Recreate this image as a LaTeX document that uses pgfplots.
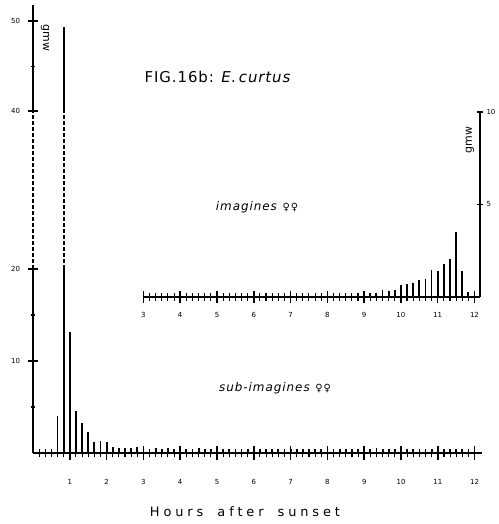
\documentclass[border=0pt]{standalone}
\usepackage{pgfplots}
\pgfplotsset{compat=1.18}
\usepackage{pgfplotstable}
\usepackage{fontspec}
\setmainfont{DejaVu Sans}

% sub-imagines (female), gmw per 10-min interval, hours after sunset
\pgfplotstableread{
h v
0.6667 4.0
0.8333 49.3
1.0000 13.1
1.1667 4.6
1.3333 3.3
1.5000 2.3
1.6667 1.2
1.8333 1.3
2.0000 1.2
2.1667 0.7
2.3333 0.5
2.5000 0.5
2.6667 0.5
2.8333 0.6
3.0000 0.5
3.1667 0.45
3.3333 0.5
3.5000 0.45
3.6667 0.5
3.8333 0.45
4.0000 0.5
4.1667 0.45
4.3333 0.45
4.5000 0.5
4.6667 0.45
4.8333 0.45
5.0000 0.5
5.1667 0.45
5.3333 0.4
5.5000 0.45
5.6667 0.45
5.8333 0.4
6.0000 0.45
6.1667 0.45
6.3333 0.4
6.5000 0.45
6.6667 0.45
6.8333 0.4
7.0000 0.45
7.1667 0.4
7.3333 0.45
7.5000 0.4
7.6667 0.45
7.8333 0.4
8.0000 0.45
8.1667 0.4
8.3333 0.45
8.5000 0.45
8.6667 0.4
8.8333 0.45
9.0000 0.4
9.1667 0.45
9.3333 0.5
9.5000 0.45
9.6667 0.4
9.8333 0.45
10.0000 0.4
10.1667 0.4
10.3333 0.45
10.5000 0.4
10.6667 0.4
10.8333 0.45
11.0000 0.4
11.1667 0.4
11.3333 0.4
11.5000 0.45
11.6667 0.4
11.8333 0.35
}\subimag

% imagines (female)
\pgfplotstableread{
h v
7.3333 0.08
7.5000 0.08
7.6667 0.08
7.8333 0.08
8.0000 0.08
8.1667 0.08
8.3333 0.08
8.5000 0.08
8.6667 0.08
8.8333 0.09
9.0000 0.18
9.1667 0.23
9.3333 0.22
9.5000 0.36
9.6667 0.32
9.8333 0.40
10.0000 0.67
10.1667 0.72
10.3333 0.76
10.5000 0.94
10.6667 0.97
10.8333 1.44
11.0000 1.40
11.1667 1.80
11.3333 2.07
11.5000 3.50
11.6667 1.40
11.8333 0.27
}\imag

\begin{document}
\begin{tikzpicture}
\useasboundingbox (0bp,0bp) rectangle (499bp,524bp);
\pgfplotsset{
  every axis/.append style={
    scale only axis, anchor=south west,
    /pgf/number format/assume math mode=true,
    tick label style={font=\fontsize{7}{8}\selectfont, black},
    tick align=outside,
    major tick style={line width=1.5bp, black},
    minor tick style={line width=1.1bp, black},
  },
  noarrow/.style={axis line style={-, line width=1.7bp, black},
    x axis line style={-}, y axis line style={-}},
  bars/.style={ycomb, black, line width=1.8bp},
}
% ---- main chart: lower part with x axis and bars
\begin{axis}[at={(33bp,71bp)}, width=449bp, height=184bp,
  xmin=0, xmax=12.2, ymin=0, ymax=20,
  axis x line=bottom, axis y line=none,
  xtick={1,...,12}, minor xtick={0.16667,0.33333,...,11.9},
  major tick length=15bp, minor tick length=9bp,
  xticklabel shift=15bp, noarrow]
\addplot[bars] table[x=h,y=v]{\subimag};
\end{axis}
% lower y axis
\begin{axis}[at={(33bp,71bp)}, width=449bp, height=184bp,
  xmin=0, xmax=12.2, ymin=0, ymax=20,
  axis x line=none, axis y line=left,
  ytick={10,20}, minor ytick={5,15},
  major tick length=11bp, minor tick length=5bp,
  yticklabel shift=4bp, noarrow]
\end{axis}
% broken part 20..40
\begin{axis}[at={(33bp,255bp)}, width=449bp, height=158bp,
  xmin=0, xmax=12.2, ymin=20, ymax=40,
  axis x line=none, axis y line=left, ytick=\empty, noarrow,
  y axis line style={dash pattern=on 4bp off 2bp}]
\addplot[bars, dash pattern=on 4bp off 2bp] table[x=h,y=v]{\subimag};
\end{axis}
% upper part 40..52
\begin{axis}[at={(33bp,413bp)}, width=449bp, height=106bp,
  xmin=0, xmax=12.2, ymin=40, ymax=51.8,
  axis x line=none, axis y line=left,
  ytick={40,50}, minor ytick={45},
  major tick length=11bp, minor tick length=5bp,
  yticklabel shift=4bp, noarrow]
\addplot[bars] table[x=h,y=v]{\subimag};
\end{axis}
% ---- inset: imagines
\begin{axis}[at={(143.4bp,227bp)}, width=336.6bp, height=185bp,
  xmin=3, xmax=12.15, ymin=0, ymax=10,
  axis x line=bottom, axis y line=none,
  xtick={3,...,12}, minor xtick={3.16667,3.33333,...,11.9},
  major tick length=12bp, minor tick length=8bp,
  xticklabel shift=6bp, noarrow]
\addplot[bars] table[x=h,y=v]{\imag};
\end{axis}
\begin{axis}[at={(143.4bp,227bp)}, width=336.6bp, height=185bp,
  xmin=3, xmax=12.15, ymin=0, ymax=10,
  axis x line=none, axis y line=right,
  ytick={5,10}, major tick length=6bp, noarrow]
\end{axis}
% ---- texts
\node[font=\fontsize{15}{16}\selectfont\addfontfeature{LetterSpace=6}] at (218bp,447bp) {FIG.16b: \textit{E.\,curtus}};
\node[font=\fontsize{12}{13}\selectfont\addfontfeature{LetterSpace=8}] at (257bp,317bp) {\textit{imagines} {\fontsize{10}{11}\selectfont ♀♀}};
\node[font=\fontsize{12}{13}\selectfont\addfontfeature{LetterSpace=8}] at (275bp,136bp) {\textit{sub-imagines} {\fontsize{10}{11}\selectfont ♀♀}};
\node[font=\fontsize{13}{14}\selectfont\addfontfeature{LetterSpace=30}] at (245bp,12bp) {Hours\hspace{14bp}after\hspace{14bp}sunset};
\node[rotate=-90, font=\fontsize{11}{12}\selectfont] at (45bp,486bp) {gmw};
\node[rotate=90, font=\fontsize{11}{12}\selectfont] at (470bp,384bp) {gmw};
\end{tikzpicture}
\end{document}
